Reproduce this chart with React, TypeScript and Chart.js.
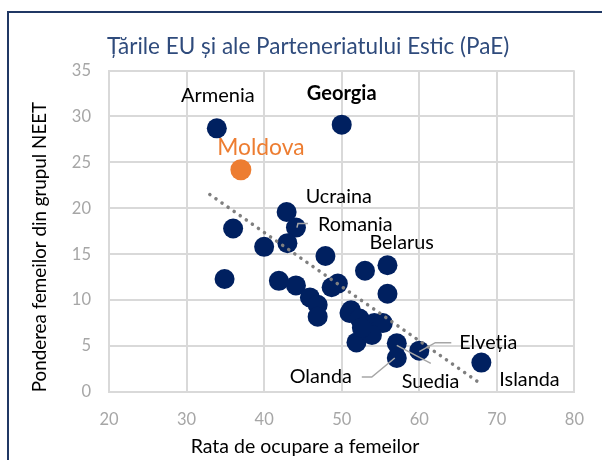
import React, { useEffect, useRef } from 'react';
import { Chart, registerables } from 'chart.js';

Chart.register(...registerables);

// ---------- DATA ----------
const chartTitle = 'Țările EU și ale Parteneriatului Estic (PaE)';
const xAxisTitle = 'Rata de ocupare a femeilor';
const yAxisTitle = 'Ponderea femeilor din grupul NEET';

const xTickValues = [20, 30, 40, 50, 60, 70, 80];
const yTickValues = [0, 5, 10, 15, 20, 25, 30, 35];

// EU + Eastern Partnership countries (unnamed points are not labelled in the source)
const countryNames = [
  'Armenia', 'Georgia', 'Ucraina', 'Romania', '', '', '', '', '', '', '', '', '', '', '', '',
  '', 'Belarus', '', '', '', '', '', '', '', '', 'Suedia', 'Olanda', 'Elveția', 'Islanda', '', '',
];
const employmentRate = [
  33.9, 50.0, 42.9, 44.1, 36.0, 40.0, 43.0, 47.9, 34.9, 41.9, 44.1, 45.9, 46.9, 46.9, 48.7, 51.2,
  53.0, 55.9, 55.9, 51.0, 52.3, 53.2, 54.2, 55.3, 51.9, 53.9, 57.1, 57.1, 60.0, 68.0, 52.6, 49.5,
];
const neetShare = [
  28.7, 29.1, 19.6, 17.9, 17.8, 15.8, 16.2, 14.8, 12.3, 12.1, 11.6, 10.3, 9.5, 8.2, 11.4, 8.9,
  13.2, 13.8, 10.7, 8.6, 8.0, 7.3, 7.5, 7.5, 5.4, 6.2, 5.3, 3.7, 4.5, 3.2, 7.0, 11.8,
];

const moldovaName = 'Moldova';
const moldovaX = [37.0];
const moldovaY = [24.2];

const trendX = [33.0, 68.0];
const trendY = [21.5, 0.85];

// ---------- STYLE / LAYOUT ----------
const FONT = 'Lato, "Open Sans", sans-serif';
const NAVY = '#002060';
const ORANGE = '#ED7D31';
const GRID = '#D9D9D9';
const TICK = '#A6A6A6';
const LEADER = '#A6A6A6';

type LabelStyle = {
  dx: number; dy: number; align: CanvasTextAlign; size: number; bold?: boolean; color?: string;
  leader?: number[][];
};
const labelLayout: Record<string, LabelStyle> = {
  Armenia: { dx: 1, dy: -33, align: 'center', size: 20 },
  Georgia: { dx: 0, dy: -31, align: 'center', size: 20, bold: true },
  Moldova: { dx: 20, dy: -22, align: 'center', size: 22.8, color: ORANGE },
  Ucraina: { dx: 19, dy: -15, align: 'left', size: 19.8 },
  Romania: { dx: 22, dy: -2.5, align: 'left', size: 19.8, leader: [[1, 0], [2, -4], [12, -4]] },
  Belarus: { dx: -18, dy: -23, align: 'left', size: 19.8 },
  'Elveția': { dx: 40, dy: -8, align: 'left', size: 19.8, leader: [[0, 1], [16, -8], [32, -8]] },
  Olanda: { dx: -45, dy: 19, align: 'right', size: 19.8, leader: [[-2, 0], [-25, 19], [-35, 19]] },
  Suedia: { dx: 5, dy: 38, align: 'left', size: 19.8, leader: [[0, 2], [34, 20]] },
  Islanda: { dx: 18, dy: 17, align: 'left', size: 19.8 },
};

const overlayPlugin = {
  id: 'overlay',
  afterDatasetsDraw(chart: any) {
    const ctx: CanvasRenderingContext2D = chart.ctx;
    const xs = chart.scales.x;
    const ys = chart.scales.y;
    const items: { name: string; x: number; y: number }[] = [];
    countryNames.forEach((n, i) => { if (n) items.push({ name: n, x: employmentRate[i], y: neetShare[i] }); });
    items.push({ name: moldovaName, x: moldovaX[0], y: moldovaY[0] });
    ctx.save();
    items.forEach((it) => {
      const st = labelLayout[it.name];
      if (!st) return;
      const px = xs.getPixelForValue(it.x);
      const py = ys.getPixelForValue(it.y);
      if (st.leader) {
        ctx.strokeStyle = LEADER;
        ctx.lineWidth = 1.5;
        ctx.beginPath();
        st.leader.forEach(([lx, ly], k) => {
          if (k === 0) ctx.moveTo(px + lx, py + ly); else ctx.lineTo(px + lx, py + ly);
        });
        ctx.stroke();
      }
      ctx.fillStyle = st.color || '#000000';
      ctx.font = `${st.bold ? 'bold ' : ''}${st.size}px ${FONT}`;
      ctx.textAlign = st.align;
      ctx.textBaseline = 'middle';
      ctx.fillText(it.name, px + st.dx, py + st.dy);
    });
    ctx.restore();
  },
  afterDraw(chart: any) {
    const ctx: CanvasRenderingContext2D = chart.ctx;
    const area = chart.chartArea;
    ctx.save();
    // frame
    ctx.strokeStyle = '#203864';
    ctx.lineWidth = 2;
    ctx.beginPath();
    ctx.moveTo(8, 460);
    ctx.lineTo(8, 12);
    ctx.lineTo(602, 12);
    ctx.stroke();
    // title
    ctx.fillStyle = '#2F4B7C';
    ctx.font = `22.5px ${FONT}`;
    ctx.textAlign = 'left';
    ctx.textBaseline = 'middle';
    ctx.fillText(chartTitle, area.left - 2, 47);
    // x axis title
    ctx.fillStyle = '#000000';
    ctx.font = `19.5px ${FONT}`;
    ctx.textAlign = 'center';
    ctx.fillText(xAxisTitle, 305, 447);
    // y axis title
    ctx.font = `18.8px ${FONT}`;
    ctx.translate(40, 247);
    ctx.rotate(-Math.PI / 2);
    ctx.fillText(yAxisTitle, 0, 0);
    ctx.restore();
  },
};

export default function App() {
  const ref = useRef<HTMLCanvasElement | null>(null);
  useEffect(() => {
    if (!ref.current) return;
    const chart = new Chart(ref.current, {
      type: 'scatter',
      data: {
        datasets: [
          {
            type: 'line',
            label: 'Trend',
            data: trendX.map((x, i) => ({ x, y: trendY[i] })),
            borderColor: '#7F7F7F',
            borderWidth: 3.5,
            borderDash: [0.1, 7.3],
            borderCapStyle: 'round',
            pointRadius: 0,
            fill: false,
          } as any,
          {
            label: moldovaName,
            data: moldovaX.map((x, i) => ({ x, y: moldovaY[i] })),
            backgroundColor: ORANGE,
            borderColor: ORANGE,
            pointRadius: 10.5,
            borderWidth: 0,
          },
          {
            label: 'Țări',
            data: employmentRate.map((x, i) => ({ x, y: neetShare[i] })),
            backgroundColor: NAVY,
            borderColor: NAVY,
            pointRadius: 10,
            borderWidth: 0,
          },
        ],
      },
      options: {
        animation: false,
        responsive: false,
        devicePixelRatio: 1,
        layout: { padding: { left: 0, right: 27, top: 70.5, bottom: 0 } },
        plugins: { legend: { display: false }, tooltip: { enabled: false }, title: { display: false } },
        scales: {
          x: {
            type: 'linear',
            min: xTickValues[0],
            max: xTickValues[xTickValues.length - 1],
            afterBuildTicks: (s: any) => { s.ticks = xTickValues.map((v) => ({ value: v })); },
            afterFit: (s: any) => { s.height = 68; },
            grid: { color: GRID, lineWidth: 2, drawTicks: false },
            border: { display: true, color: GRID, width: 2 },
            ticks: { color: TICK, font: { family: FONT, size: 16.5 }, padding: 18 },
          },
          y: {
            type: 'linear',
            min: yTickValues[0],
            max: yTickValues[yTickValues.length - 1],
            afterBuildTicks: (s: any) => { s.ticks = yTickValues.map((v) => ({ value: v })); },
            afterFit: (s: any) => { s.width = 109; },
            grid: { color: GRID, lineWidth: 2, drawTicks: false },
            border: { display: true, color: GRID, width: 2 },
            ticks: { color: TICK, font: { family: FONT, size: 16.5 }, padding: 18 },
          },
        },
      },
      plugins: [overlayPlugin],
    });
    return () => chart.destroy();
  }, []);
  return (
    <div style={{ position: 'fixed', left: 0, top: 0, width: 602, height: 460, background: '#fff' }}>
      <canvas ref={ref} width={602} height={460} style={{ display: 'block' }} />
    </div>
  );
}
